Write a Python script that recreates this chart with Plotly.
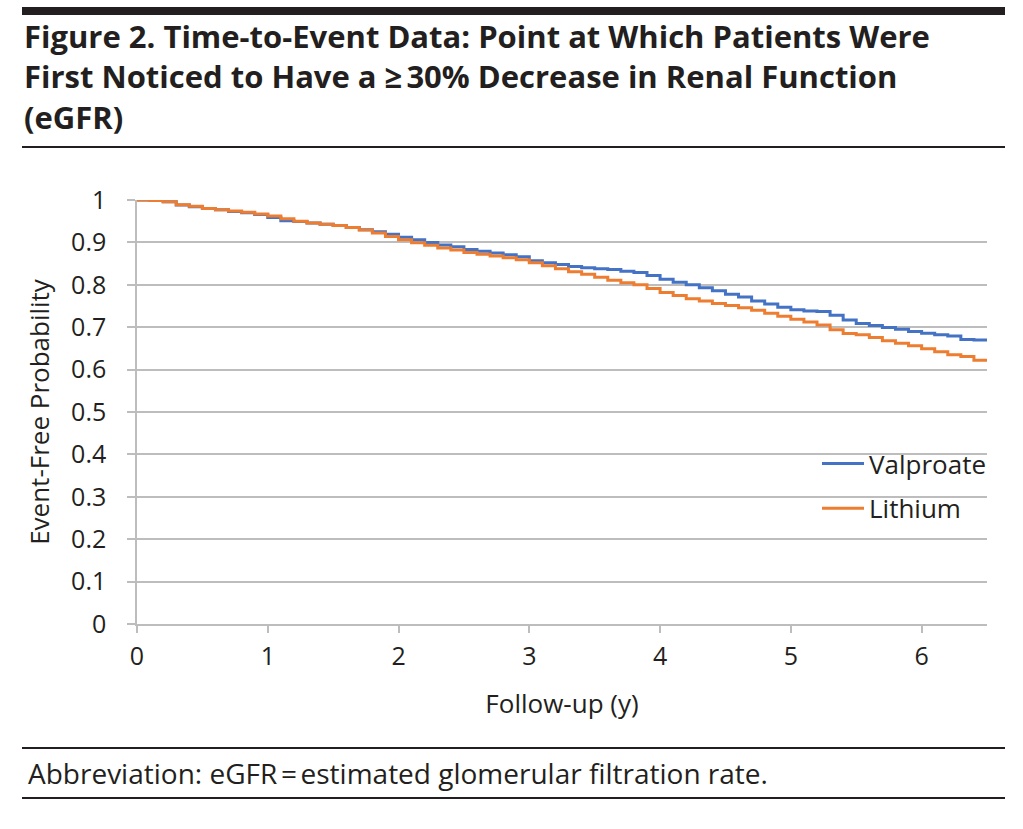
import plotly.graph_objects as go

# ---- data ----
years = [0.0, 0.1, 0.2, 0.3, 0.4, 0.5, 0.6, 0.7, 0.8, 0.9,
         1.0, 1.1, 1.2, 1.3, 1.4, 1.5, 1.6, 1.7, 1.8, 1.9,
         2.0, 2.1, 2.2, 2.3, 2.4, 2.5, 2.6, 2.7, 2.8, 2.9,
         3.0, 3.1, 3.2, 3.3, 3.4, 3.5, 3.6, 3.7, 3.8, 3.9,
         4.0, 4.1, 4.2, 4.3, 4.4, 4.5, 4.6, 4.7, 4.8, 4.9,
         5.0, 5.1, 5.2, 5.3, 5.4, 5.5, 5.6, 5.7, 5.8, 5.9,
         6.0, 6.1, 6.2, 6.3, 6.4, 6.5]

valproate = [1.000, 0.999, 0.996, 0.988, 0.984, 0.980, 0.977, 0.973, 0.970, 0.966,
             0.959, 0.951, 0.949, 0.946, 0.943, 0.940, 0.935, 0.930, 0.925, 0.919,
             0.912, 0.906, 0.900, 0.894, 0.890, 0.883, 0.879, 0.875, 0.871, 0.866,
             0.857, 0.852, 0.848, 0.843, 0.840, 0.838, 0.836, 0.832, 0.829, 0.822,
             0.813, 0.806, 0.800, 0.793, 0.786, 0.778, 0.771, 0.762, 0.755, 0.747,
             0.741, 0.738, 0.737, 0.728, 0.717, 0.709, 0.704, 0.699, 0.695, 0.690,
             0.686, 0.682, 0.679, 0.671, 0.670, 0.670]

lithium = [1.000, 0.999, 0.996, 0.989, 0.985, 0.980, 0.977, 0.974, 0.971, 0.967,
           0.962, 0.956, 0.950, 0.946, 0.943, 0.940, 0.935, 0.929, 0.922, 0.914,
           0.906, 0.899, 0.893, 0.887, 0.882, 0.876, 0.872, 0.868, 0.864, 0.859,
           0.852, 0.845, 0.838, 0.831, 0.825, 0.818, 0.811, 0.805, 0.800, 0.791,
           0.782, 0.775, 0.767, 0.762, 0.756, 0.751, 0.746, 0.740, 0.733, 0.726,
           0.719, 0.712, 0.705, 0.694, 0.685, 0.682, 0.676, 0.668, 0.662, 0.656,
           0.649, 0.642, 0.635, 0.631, 0.622, 0.620]

x_ticks = [0, 1, 2, 3, 4, 5, 6]
y_ticks = [0, 0.1, 0.2, 0.3, 0.4, 0.5, 0.6, 0.7, 0.8, 0.9, 1]
y_tick_text = ["0", "0.1", "0.2", "0.3", "0.4", "0.5", "0.6", "0.7", "0.8", "0.9", "1"]

title_lines = [
    "Figure 2. Time-to-Event Data: Point at Which Patients Were",
    "First Noticed to Have a \u2265\u202f30% Decrease in Renal Function",
    "(eGFR)",
]
footnote = "Abbreviation: eGFR\u202f=\u202festimated glomerular filtration rate."

# ---- figure geometry (pixels) ----
W, H = 1023, 829
L, R, T, B = 137, 987, 200, 624


def px_x(p):
    return (p - L) / (R - L)


def px_y(p):
    return (B - p) / (B - T)


FONT = "Open Sans, Noto Sans, sans-serif"
TXT = "#231f20"
GRID = "#bdbdbd"

fig = go.Figure()
fig.add_trace(go.Scatter(x=years, y=valproate, mode="lines", name="Valproate",
                         legendgroup="v", line=dict(color="#4472C4", width=3, shape="hv")))
fig.add_trace(go.Scatter(x=years, y=lithium, mode="lines", name="Lithium",
                         legendgroup="l", line=dict(color="#ED7D31", width=3, shape="hv")))

fig.update_layout(
    width=W, height=H,
    margin=dict(l=L, r=W - R, t=T, b=H - B, pad=0),
    paper_bgcolor="white", plot_bgcolor="white",
    font=dict(family=FONT, size=25, color=TXT),
    showlegend=True,
    legend=dict(x=px_x(817), y=px_y(440), xanchor="left", yanchor="top",
                font=dict(size=26, color=TXT), bgcolor="rgba(0,0,0,0)",
                tracegroupgap=8, itemwidth=42),
    xaxis=dict(range=[0, 6.5], tickvals=x_ticks, showgrid=False, zeroline=False,
               showline=True, linecolor=GRID, linewidth=1.5,
               ticks="outside", ticklen=7, tickwidth=1.5, tickcolor=GRID,
               tickfont=dict(size=25, color=TXT), ticklabelstandoff=2,
               title=dict(text="Follow-up (y)", font=dict(size=26, color=TXT), standoff=24)),
    yaxis=dict(range=[0, 1], tickvals=y_ticks, ticktext=y_tick_text,
               showgrid=True, gridcolor=GRID, gridwidth=1.5, zeroline=False,
               showline=True, linecolor=GRID, linewidth=1.5,
               ticks="outside", ticklen=8, tickwidth=1.5, tickcolor=GRID,
               tickfont=dict(size=25, color=TXT), ticklabelstandoff=16,
               title=dict(text="Event-Free Probability", font=dict(size=26, color=TXT), standoff=14)),
)

# title (one multi-line text block)
fig.add_annotation(text="<br>".join("<b>" + t + "</b>" for t in title_lines),
                   xref="paper", yref="paper", x=px_x(22), y=px_y(13),
                   xanchor="left", yanchor="top", align="left",
                   showarrow=False, font=dict(family=FONT, size=31, color=TXT))

fig.add_annotation(text=footnote, xref="paper", yref="paper",
                   x=px_x(26), y=px_y(773), xanchor="left", yanchor="middle",
                   showarrow=False, font=dict(family=FONT, size=28, color=TXT))

# rules
x0, x1 = px_x(22), px_x(1005)
fig.add_shape(type="rect", xref="paper", yref="paper", x0=x0, x1=x1,
              y0=px_y(15), y1=px_y(7), fillcolor=TXT, line=dict(width=0))
for yy in [147, 748, 798]:
    fig.add_shape(type="line", xref="paper", yref="paper", x0=x0, x1=x1,
                  y0=px_y(yy), y1=px_y(yy), line=dict(color=TXT, width=2))

fig.write_html("out.html", config={"displayModeBar": False},
               post_script="document.body.style.margin='0px';document.body.style.overflow='hidden';")
